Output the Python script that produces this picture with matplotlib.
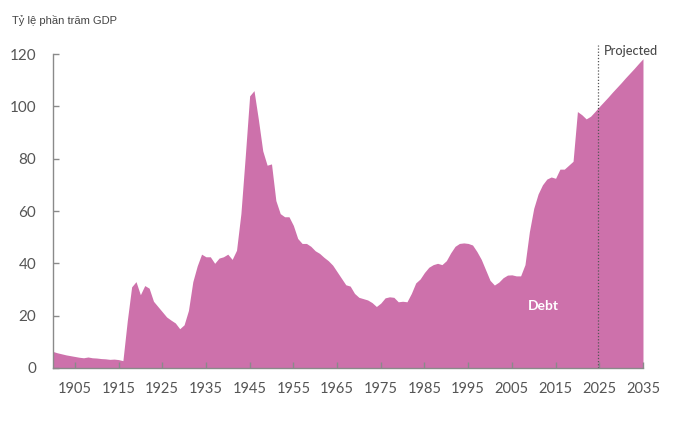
import matplotlib
matplotlib.use('Agg')
import matplotlib.pyplot as plt

# debt held by public, % of GDP
years = list(range(1900, 2036))
debt = [6.3, 5.8, 5.4, 5.0, 4.7, 4.4, 4.1, 3.9, 4.2, 3.9,
        3.8, 3.6, 3.5, 3.3, 3.4, 3.2, 2.8, 18.0, 31.0, 33.0,
        28.0, 31.5, 30.5, 25.5, 23.5, 21.5, 19.5, 18.3, 17.2, 15.0,
        16.5, 22.0, 33.0, 39.0, 43.5, 42.5, 42.5, 40.0, 42.0, 42.5,
        43.5, 41.5, 45.0, 59.0, 81.0, 104.0, 106.0, 95.0, 83.0, 77.5,
        78.0, 64.0, 59.0, 57.8, 57.8, 54.5, 49.5, 47.6, 47.6, 46.5,
        44.8, 43.8, 42.3, 41.0, 39.3, 36.8, 34.3, 31.8, 31.3, 28.5,
        27.0, 26.5, 26.0, 25.0, 23.5, 24.8, 26.8, 27.2, 27.0, 25.3,
        25.5, 25.3, 28.5, 32.5, 34.0, 36.5, 38.5, 39.5, 40.0, 39.5,
        41.0, 44.0, 46.5, 47.6, 47.8, 47.6, 47.0, 44.5, 41.5, 37.5,
        33.5, 31.7, 32.8, 34.5, 35.5, 35.6, 35.2, 35.2, 39.5, 52.0,
        61.0, 66.5, 70.0, 72.2, 73.0, 72.5, 76.0, 76.0, 77.5, 79.0,
        98.0, 96.8, 95.2, 96.2, 98.0, 99.9, 101.7, 103.5, 105.4, 107.2,
        109.0, 110.9, 112.7, 114.5, 116.4, 118.2]

xticks = [1905, 1915, 1925, 1935, 1945, 1955, 1965, 1975, 1985, 1995, 2005, 2015, 2025, 2035]
yticks = [0, 20, 40, 60, 80, 100, 120]
proj_year = 2024.6

fill_col = '#cd71ab'
axis_col = '#8a8a8a'
text_col = '#555555'

fig = plt.figure(figsize=(6.97, 4.22), dpi=100)
ax = fig.add_axes([0.076, 0.128, 0.8465, 0.744])

ax.fill_between(years, debt, 0, color=fill_col, linewidth=0)
ax.axvline(proj_year, ymin=0, ymax=1.03, color='#555555', linestyle=(0, (1, 1.5)),
           linewidth=0.9, clip_on=False)

ax.set_xlim(1900, 2035)
ax.set_ylim(0, 120)
ax.set_xticks(xticks)
ax.set_yticks(yticks)
ax.tick_params(direction='in', length=4, color=axis_col, width=1, labelcolor=text_col)
ax.tick_params(axis='x', pad=10, labelsize=10.5)
ax.tick_params(axis='y', pad=12, labelsize=11)
for lab in ax.get_xticklabels() + ax.get_yticklabels():
    lab.set_family('Lato')

for s in ['top', 'right']:
    ax.spines[s].set_visible(False)
for s in ['left', 'bottom']:
    ax.spines[s].set_color(axis_col)
    ax.spines[s].set_linewidth(1)

ax.text(2012.3, 23.5, 'Debt', color='white', fontsize=10, fontweight='bold',
        family='Lato', ha='center', va='center')
ax.text(2026.1, 121.2, 'Projected', color='#4a4a4a', fontsize=9.2, family='Lato',
        fontweight='medium', ha='left', va='center')

fig.text(12 / 697, 1 - 20 / 422, 'Tỷ lệ phần trăm GDP', fontsize=8, color='#444444',
         family='Liberation Sans', ha='left', va='center')

fig.savefig('out.png', dpi=100)
